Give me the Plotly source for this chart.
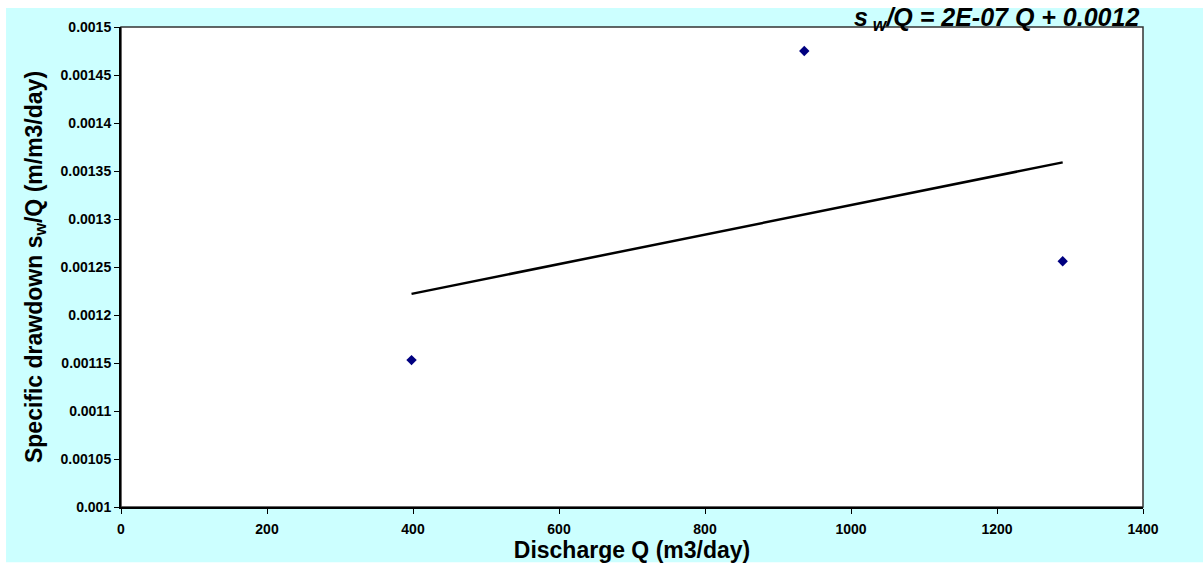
import plotly.graph_objects as go

# Data
discharge_q = [398, 936, 1290]
specific_drawdown = [0.001153, 0.001475, 0.001256]

# Linear trend line end points (as drawn in the reference)
trend_q = [398, 1290]
trend_sw = [0.001222, 0.001359]

x_tick_vals = [0, 200, 400, 600, 800, 1000, 1200, 1400]
x_tick_text = ["0", "200", "400", "600", "800", "1000", "1200", "1400"]
y_tick_vals = [0.001, 0.00105, 0.0011, 0.00115, 0.0012, 0.00125, 0.0013, 0.00135, 0.0014, 0.00145, 0.0015]
y_tick_text = ["0.001", "0.00105", "0.0011", "0.00115", "0.0012", "0.00125", "0.0013", "0.00135", "0.0014", "0.00145", "0.0015"]

equation_text = "<b><i>s<sub> w</sub>/Q = 2E-07 Q + 0.0012</i></b>"

fig = go.Figure()
fig.add_trace(go.Scatter(
    x=trend_q, y=trend_sw, mode="lines",
    line=dict(color="black", width=2.5), showlegend=False, hoverinfo="skip"))
fig.add_trace(go.Scatter(
    x=discharge_q, y=specific_drawdown, mode="markers",
    marker=dict(symbol="diamond", color="#000080", size=8), showlegend=False))

font_family = "Liberation Sans, Arial, sans-serif"

fig.update_layout(
    width=1203, height=565,
    margin=dict(l=121, r=60, t=27, b=58),
    paper_bgcolor="white",
    plot_bgcolor="white",
    font=dict(family=font_family, color="black"),
    xaxis=dict(
        range=[0, 1400], tickvals=x_tick_vals,
        ticktext=["<b>%s</b>" % t for t in x_tick_text],
        showgrid=False, zeroline=False,
        showline=True, linecolor="black", linewidth=2,
        ticks="outside", ticklen=5, tickcolor="black", tickwidth=1,
        ticklabelstandoff=3,
        tickfont=dict(size=14, family=font_family),
        title=dict(text="<b>Discharge Q (m3/day)</b>", font=dict(size=23), standoff=0),
    ),
    yaxis=dict(
        range=[0.001, 0.0015], tickvals=y_tick_vals,
        ticktext=["<b>%s</b>" % t for t in y_tick_text],
        showgrid=False, zeroline=False,
        showline=True, linecolor="black", linewidth=2,
        ticks="outside", ticklen=5, tickcolor="black", tickwidth=1,
        tickfont=dict(size=14, family=font_family),
        title=dict(text="<b>Specific drawdown s<sub>w</sub>/Q (m/m3/day)</b>", font=dict(size=23), standoff=12),
    ),
    shapes=[
        dict(type="rect", xref="paper", yref="paper", layer="below",
             x0=-0.1125, x1=1.06, y0=-0.115, y1=1.0396,
             fillcolor="#CCFFFF", line=dict(width=0)),
        dict(type="rect", xref="paper", yref="paper", layer="below",
             x0=0, x1=1, y0=0, y1=1,
             fillcolor="white", line=dict(color="#333333", width=1.5)),
    ],
    annotations=[
        dict(text=equation_text, xref="paper", yref="paper",
             x=0.998, y=1.017, xanchor="right", yanchor="middle",
             showarrow=False, font=dict(size=25, family=font_family, color="black")),
    ],
)

fig.write_html("out.html")
